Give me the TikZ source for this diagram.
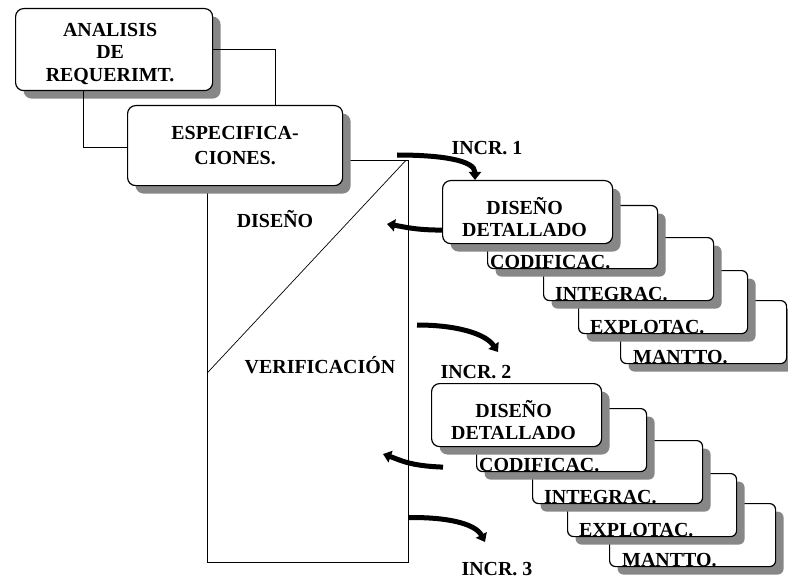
\documentclass[tikz,border=0pt]{standalone}
\usepackage{fontspec}
\setmainfont{Liberation Serif}
\usetikzlibrary{arrows.meta,calc,shadows}
\definecolor{shgray}{RGB}{135,135,135}
\begin{document}
\begin{tikzpicture}[x=1bp,y=-1bp,
  every node/.style={font=\fontsize{20}{22.5}\selectfont\bfseries, inner sep=0pt},
  shbox/.style={draw, line width=1.2bp, fill=white, anchor=north west,
    drop shadow={shadow xshift=8bp, shadow yshift=-8bp, fill=shgray, opacity=1}},
  mainbox/.style={shbox, rounded corners=8bp, align=center},
  stepbox/.style={shbox, rounded corners=6bp, minimum width=170bp, minimum height=63bp},
  steplbl/.style={anchor=base west},
  link/.style={line width=1bp},
  flow/.style={line width=5bp, -{Triangle[width=12bp,length=8bp]}},
]
\useasboundingbox (0,0) rectangle (788,579);

% phase column with the design / verification split
\node[draw, line width=1.2bp, anchor=north west, minimum width=201bp, minimum height=402bp] (phase) at (207,160) {};
\draw[line width=0.7bp] ($(phase.south west)+(0,-190)$) -- ($(phase.north east)+(-3,0)$);
\node[anchor=base] (dis) at (275,228) {DISEÑO};
\node[anchor=base] (ver) at (320,373) {VERIFICACIÓN};

% the first two stages and the lines joining them
\coordinate (anaLow) at (83,90);
\coordinate (espTop) at (275,105);
\node[mainbox, minimum width=197bp, minimum height=82bp] (ana) at (15,8) {};
\node[align=center, anchor=north] (anal) at ($(ana.north)+(-4,15)$) {ANALISIS\\DE\\REQUERIMT.};
\draw[link] (ana.east) -| (espTop);
\draw[link] (anaLow) |- (127,148);
\node[mainbox, minimum width=215bp, minimum height=80bp, font=\fontsize{20}{25}\selectfont\bfseries] (esp) at (127,105) {ESPECIFICA-\\CIONES.};

% one increment: stacked stages, back to front
\foreach \g/\dx/\dy in {1/0/0, 2/-11/203} {
  \begin{scope}[shift={(\dx,\dy)}]
    \node[stepbox, minimum width=166bp] (man\g) at (620,300) {};
    \node[steplbl] (manl\g) at ($(man\g.south west)+(13,-1)$) {MANTTO.};
    \node[stepbox, minimum width=169bp] (exp\g) at (578,270) {};
    \node[steplbl] (expl\g) at ($(exp\g.south west)+(12,-1)$) {EXPLOTAC.};
    \node[stepbox] (int\g) at (543,237) {};
    \node[steplbl] (intl\g) at ($(int\g.south west)+(12,-1)$) {INTEGRAC.};
    \node[stepbox] (cod\g) at (487,205) {};
    \node[steplbl] (codl\g) at ($(cod\g.south west)+(3,-1)$) {CODIFICAC.};
    \node[stepbox, rounded corners=8bp] (dd\g) at (442,180) {};
    \node[align=center] (ddl\g) at ($(dd\g.center)+(-3,5)$) {DISEÑO\\DETALLADO};
  \end{scope}
}

% increment labels
\node[anchor=base] (inc1) at (487,155) {INCR. 1};
\node[anchor=base] (inc2) at (476,378) {INCR. 2};
\node[anchor=base] (inc3) at (497,575) {INCR. 3};

% flow arrows
\coordinate (s1) at (397,155);
\coordinate (r1) at (387,224);
\coordinate (s2) at (417,325);
\coordinate (e2) at (498,352);
\coordinate (r2) at (383,454);
\coordinate (e3) at (485,542);
\draw[flow] (s1) .. controls (440,155) and (475,160) .. ($(dd1.north west)+(33,0)$);
\draw[flow] ($(dd1.west)+(0,18)$) .. controls (415,230) and (405,227) .. (r1);
\draw[flow] (s2) .. controls (455,325) and (485,333) .. (e2);
\draw[flow] ($(dd2.west)+(12,52)$) .. controls (410,466) and (400,460) .. (r2);
\draw[flow] ($(phase.east)+(0,156)$) .. controls (445,517) and (475,523) .. (e3);
\end{tikzpicture}
\end{document}
